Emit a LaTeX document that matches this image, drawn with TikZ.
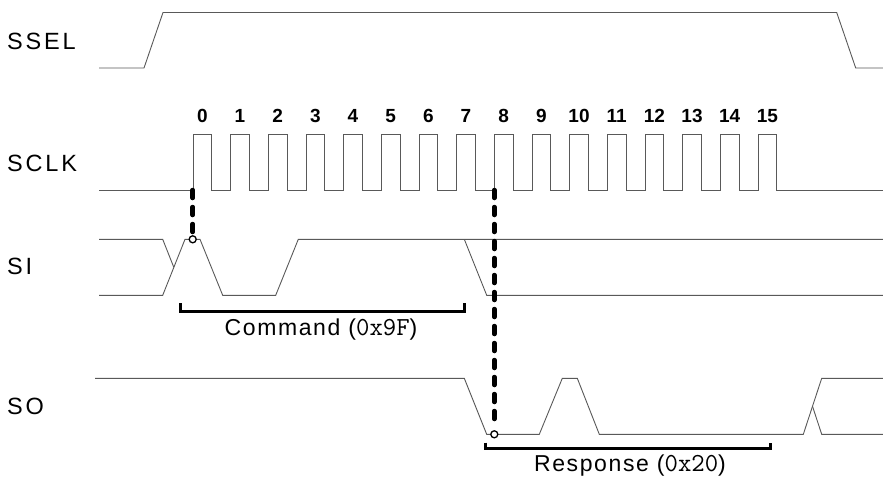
\documentclass[tikz,border=0pt]{standalone}
\usepackage{fontspec}
\setmainfont{Liberation Sans}
\newfontfamily\sigfont{Liberation Sans}[LetterSpace=12]
\newfontfamily\capfont{Liberation Sans}[LetterSpace=7]
\newcommand\hexpart[1]{{\ttfamily\addfontfeatures{LetterSpace=12}\fontsize{26}{26}\selectfont #1}}
\usetikzlibrary{positioning,calc}

\begin{document}
\begin{tikzpicture}[
    x=1pt, y=-1pt,
    wave/.style={draw=black!65, line width=0.9pt},
    signame/.style={anchor=west, inner sep=0pt, font=\sigfont\fontsize{23.5}{24}\selectfont},
    bitnum/.style={inner sep=0pt, font=\fontsize{19}{19}\selectfont\bfseries},
    bracket/.style={draw=black, line width=3pt},
    brlabel/.style={inner sep=0pt, font=\capfont\fontsize{23}{23}\selectfont},
    marker/.style={draw=black, line width=4.5pt, line cap=round, dash pattern=on 8pt off 9pt},
    probe/.style={circle, draw=black, line width=1.3pt, fill=white, inner sep=0pt, minimum size=7pt}
  ]
  \useasboundingbox (0,0) rectangle (883,479);

  % Signal names
  \node[signame] (ssel) at (7,41) {SSEL};
  \node[signame] (sclk) at (7,163) {SCLK};
  \node[signame] (si) at (7,266) {SI};
  \node[signame] (so) at (7,406) {SO};

  % SSEL
  \draw[wave] (99,68) -- (144,68) -- (163,12.5) -- (836.7,12.5) -- (855.7,68) -- (883,68);

  % SCLK with bit numbers
  \draw[wave] (99,190) foreach \k in {0,...,15} {
      -- ({193+37.67*\k},190) -- ++(0,-56) -- ++(18.7,0) -- ++(0,56)} -- (883,190);
  \foreach \k in {0,...,15}
    \node[bitnum] (bit\k) at ({202.3+37.67*\k},116) {\k};

  % SI
  \draw[wave] (99,239.3) -- (162.7,239.3) -- (173.8,267.3);
  \draw[wave] (99,295.3) -- (162.7,295.3) -- (185,239.3) -- (200,239.3) -- (222.7,295.3)
    -- (275.7,295.3) -- (298.3,239.3) -- (883,239.3);
  \draw[wave] (464.3,239.3) -- (486.7,295.3) -- (883,295.3);

  % SO
  \draw[wave] (95,378.3) -- (464.3,378.3) -- (486.7,434.3) -- (539.3,434.3) -- (562.3,378.3)
    -- (577.3,378.3) -- (599.3,434.3) -- (803.3,434.3) -- (821.7,378.3) -- (883,378.3);
  \draw[wave] (812.5,406.3) -- (821.7,434.3) -- (883,434.3);

  % Sampling markers
  \coordinate (clk0) at (192.7,190);
  \coordinate (clk8) at (494.3,190);
  \node[probe] (siprobe) at (192.7,239.3) {};
  \node[probe] (soprobe) at (494.3,434.3) {};
  \draw[marker, shorten >=2.5pt] (clk0) -- (siprobe.north);
  \draw[marker, shorten >=2.5pt] (clk8) -- (soprobe.north);

  % Brackets
  \draw[bracket] (180.7,303.3) -- (180.7,311) -- (464.3,311) -- (464.3,303.3);
  \node[brlabel] (cmd) at (321,330) {Command (\hexpart{0x9F})};
  \draw[bracket] (485.7,442.5) -- (485.7,448.5) -- (770,448.5) -- (770,442.5);
  \node[brlabel] (resp) at (630,466) {Response (\hexpart{0x20})};
\end{tikzpicture}
\end{document}
